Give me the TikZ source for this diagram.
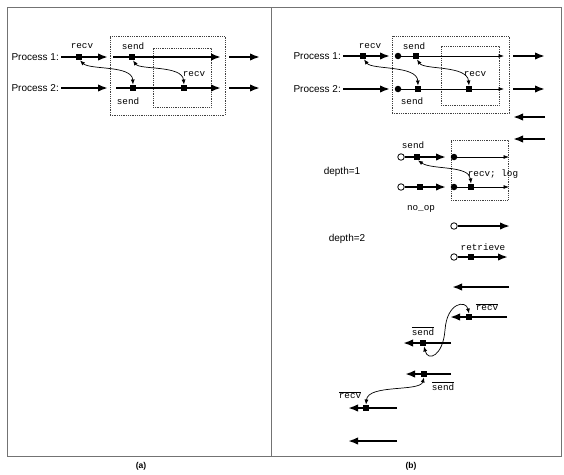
\documentclass[tikz,border=0pt]{standalone}
\usepackage{fontspec}
\setmainfont{Liberation Sans}
\setsansfont{Liberation Sans}
\setmonofont{Liberation Mono}
\usetikzlibrary{arrows.meta}
\begin{document}
\begin{tikzpicture}[x=1pt,y=-1pt,
  thickarr/.style={line width=2.1pt,-{Latex[length=10pt,width=7.5pt]}},
  thinarr/.style={line width=0.7pt,-{Latex[length=5.5pt,width=4pt]}},
  mk/.style={rectangle,fill=black,minimum width=5.5pt,minimum height=6.5pt,inner sep=0pt},
  fdot/.style={circle,fill=black,minimum size=6.5pt,inner sep=0pt},
  odot/.style={circle,draw=black,fill=white,line width=0.8pt,minimum size=6.5pt,inner sep=0pt},
  msg/.style={line width=0.7pt,{Latex[length=5pt,width=4pt]}-{Latex[length=5pt,width=4pt]}},
  mono/.style={font=\fontsize{9.3}{10}\selectfont\ttfamily,inner sep=1pt},
  lab/.style={font=\fontsize{10}{12}\selectfont,inner sep=1pt},
  dbox/.style={draw=black!75,densely dotted,line width=0.8pt,inner sep=0pt},
  captxt/.style={font=\fontsize{8.5}{10}\selectfont\bfseries,inner sep=1pt}
]
\useasboundingbox (0,0) rectangle (564,474);
% frame
\node[draw=black!55,line width=0.9pt,minimum width=554pt,minimum height=449pt,inner sep=0pt] (frame) at (284,231.5) {};
\coordinate (divt) at (271,7);
\coordinate (divb) at (271,456);
\draw[black!55,line width=0.9pt] (divt) -- (divb);
\node[captxt] (capa) at (141,466) {(a)};
\node[captxt] (capb) at (411,466) {(b)};

% ================= panel (a)
\node[dbox,minimum width=115pt,minimum height=79pt] (boxA) at (167.5,75.5) {};
\node[dbox,minimum width=58pt,minimum height=59pt] (boxAi) at (182,77.5) {};
\node[lab,anchor=east] (ap1) at (60,57) {Process 1:};
\node[lab,anchor=east] (ap2) at (60,88) {Process 2:};
\coordinate (a1s) at (61,57); \coordinate (a1e) at (108,57);
\coordinate (a2s) at (113,57); \coordinate (a2e) at (221,57);
\coordinate (a3s) at (229,57); \coordinate (a3e) at (260,57);
\coordinate (b1s) at (61,88); \coordinate (b1e) at (108,88);
\coordinate (b2s) at (116,88); \coordinate (b2e) at (221,88);
\coordinate (b3s) at (229,88); \coordinate (b3e) at (260,88);
\draw[thickarr] (a1s) -- (a1e);
\draw[thickarr] (a2s) -- (a2e);
\draw[thickarr] (a3s) -- (a3e);
\draw[thickarr] (b1s) -- (b1e);
\draw[thickarr] (b2s) -- (b2e);
\draw[thickarr] (b3s) -- (b3e);
\node[mk] (ar1) at (79,57) {};
\node[mk] (as1) at (132,57) {};
\node[mk] (bs) at (133,88) {};
\node[mk] (br) at (184,88) {};
\node[mono] (lar1) at (82,46) {recv};
\node[mono] (las1) at (133,46) {send};
\node[mono] (lbs) at (128,101) {send};
\node[mono] (lbr) at (194,74) {recv};
\draw[msg] ([xshift=1pt]ar1.south) .. controls (90,70) and (132,65) .. (bs.north);
\draw[msg] ([xshift=1pt]as1.south) .. controls (140,70) and (182,65) .. (br.north);

% ================= panel (b)
\node[dbox,minimum width=117pt,minimum height=77pt] (boxB) at (450.5,74.5) {};
\node[dbox,minimum width=58pt,minimum height=59pt] (boxBi) at (470,75.5) {};
\node[lab,anchor=east] (bp1) at (342,56) {Process 1:};
\node[lab,anchor=east] (bp2) at (342,89) {Process 2:};
\coordinate (c1s) at (343,56); \coordinate (c1e) at (390,56);
\coordinate (d1s) at (343,89); \coordinate (d1e) at (390,89);
\draw[thickarr] (c1s) -- (c1e);
\draw[thickarr] (d1s) -- (d1e);
\node[mk] (cr) at (363,56) {};
\node[mono] (lcr) at (370,46) {recv};
\node[fdot] (cd1) at (398,56) {};
\node[fdot] (dd1) at (398,89) {};
\coordinate (c2e) at (504,56);
\coordinate (d2e) at (504,89);
\draw[thinarr] (cd1) -- (c2e);
\draw[thinarr] (dd1) -- (d2e);
\node[mk] (cs) at (416,56) {};
\node[mk] (ds) at (418,89) {};
\node[mk] (dr) at (469,89) {};
\node[mono] (lcs) at (414,46) {send};
\node[mono] (lds) at (412,101) {send};
\node[mono] (ldr) at (475,74) {recv};
\draw[msg] ([xshift=1pt]cr.south) .. controls (372,70) and (417,65) .. (ds.north);
\draw[msg] ([xshift=1pt]cs.south) .. controls (424,70) and (467,65) .. (dr.north);
\coordinate (c3s) at (513,56); \coordinate (c3e) at (545,56);
\coordinate (d3s) at (513,89); \coordinate (d3e) at (545,89);
\draw[thickarr] (c3s) -- (c3e);
\draw[thickarr] (d3s) -- (d3e);
\coordinate (e1s) at (545,117); \coordinate (e1e) at (513,117);
\coordinate (e2s) at (545,139); \coordinate (e2e) at (513,139);
\draw[thickarr] (e1s) -- (e1e);
\draw[thickarr] (e2s) -- (e2e);

% depth section
\node[lab] (dp1) at (342,172) {depth=1};
\node[lab] (dp2) at (347,239) {depth=2};
\node[dbox,minimum width=57pt,minimum height=60pt] (boxC) at (479.5,170) {};
\node[mono] (lfs) at (413,145) {send};
\node[odot] (o1) at (401,157) {};
\coordinate (f1e) at (446,157);
\draw[thickarr] (o1) -- (f1e);
\node[mk] (fs) at (417,157) {};
\node[fdot] (g1) at (454,157) {};
\coordinate (g1e) at (509,157);
\draw[thinarr] (g1) -- (g1e);
\node[odot] (o2) at (401,187) {};
\coordinate (f2e) at (446,187);
\draw[thickarr] (o2) -- (f2e);
\node[mk] (fs2) at (420,187) {};
\node[fdot] (g2) at (454,187) {};
\coordinate (g2e) at (509,187);
\draw[thinarr] (g2) -- (g2e);
\node[mk] (gr) at (471,187) {};
\node[mono] (lgr) at (493,174) {recv; log};
\draw[msg] ([xshift=1pt]fs.south) .. controls (432,170) and (469,165) .. (gr.north);
\node[mono] (lno) at (421,209) {no\_op};
\node[odot] (o3) at (454,226) {};
\coordinate (o3e) at (510,226);
\draw[thickarr] (o3) -- (o3e);
\node[mono] (lret) at (483,247) {retrieve};
\node[odot] (o4) at (454,257) {};
\coordinate (o4e) at (508,257);
\draw[thickarr] (o4) -- (o4e);
\node[mk] (o4m) at (471,257) {};

% reversed section
\coordinate (r1s) at (509,287); \coordinate (r1e) at (452,287);
\draw[thickarr] (r1s) -- (r1e);
\node[mono] (lh1) at (487,307) {$\overline{\mbox{\ttfamily recv}}$};
\coordinate (r2s) at (507,317); \coordinate (r2e) at (450,317);
\draw[thickarr] (r2s) -- (r2e);
\node[mk] (h1) at (469,317) {};
\node[mono] (lh2) at (423,331) {$\overline{\mbox{\ttfamily send}}$};
\coordinate (r3s) at (451,343); \coordinate (r3e) at (403,343);
\draw[thickarr] (r3s) -- (r3e);
\node[mk] (h2) at (423,343) {};
\draw[msg] ([xshift=1pt]h2.south) .. controls (428,362) and (443,356) .. (445,330)
  .. controls (447,302) and (466,300) .. (h1.north);
\coordinate (r4s) at (451,374); \coordinate (r4e) at (405,374);
\draw[thickarr] (r4s) -- (r4e);
\node[mk] (h3) at (424,374) {};
\node[mono] (lh3) at (443,386) {$\overline{\mbox{\ttfamily send}}$};
\coordinate (r5s) at (397,408); \coordinate (r5e) at (348,408);
\draw[thickarr] (r5s) -- (r5e);
\node[mk] (h4) at (366,408) {};
\node[mono] (lh4) at (350,395) {$\overline{\mbox{\ttfamily recv}}$};
\draw[msg] (h3.south) .. controls (420,392) and (368,384) .. (h4.north);
\coordinate (r6s) at (397,441); \coordinate (r6e) at (348,441);
\draw[thickarr] (r6s) -- (r6e);
\end{tikzpicture}
\end{document}
